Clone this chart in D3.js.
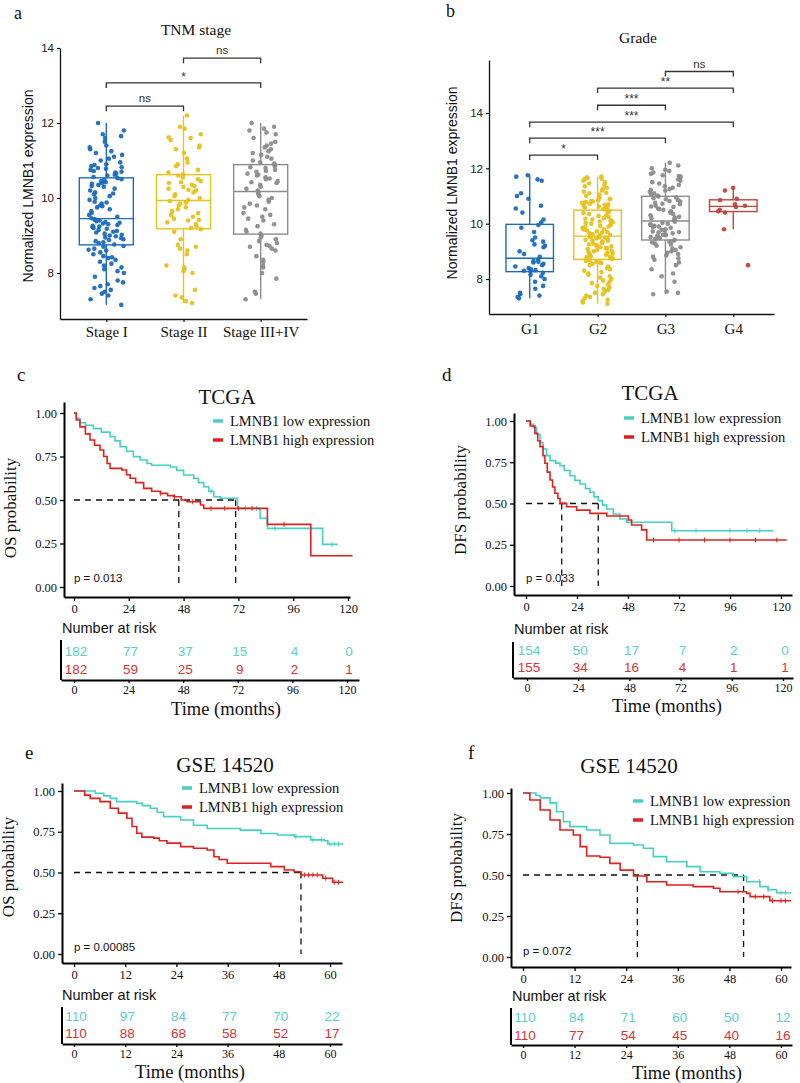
<!DOCTYPE html>
<html><head><meta charset="utf-8">
<script src="https://cdn.jsdelivr.net/npm/d3@7"></script>
<style>body{margin:0;background:#fff}</style>
</head><body>
<svg id="fig" width="800" height="1083"></svg>
<script>
// ---------------- DATA ----------------
const stageCats = ["Stage I", "Stage II", "Stage III+IV"];
const stageI = [7.15,7.3,7.4,7.45,7.5,7.55,7.6,7.65,7.7,7.75,7.8,7.9,8.0,8.05,8.1,8.15,8.2,8.25,8.3,8.35,8.4,8.42,8.45,8.5,8.55,8.6,8.62,8.65,8.7,8.72,
 8.76,8.8,8.82,8.85,8.88,8.9,8.93,8.95,8.98,9.0,9.02,9.05,9.08,9.1,9.12,9.15,9.18,9.2,9.22,9.24,9.26,9.28,9.3,9.32,9.34,9.36,9.38,9.4,9.42,9.44,
 9.46,9.5,9.55,9.6,9.65,9.7,9.75,9.78,9.8,9.85,9.88,9.9,9.95,10.0,10.05,10.1,10.12,10.15,10.2,10.25,10.3,10.32,10.35,10.38,10.4,10.42,10.45,10.48,10.5,10.53,
 10.56,10.6,10.62,10.65,10.68,10.7,10.72,10.75,10.78,10.8,10.82,10.85,10.88,10.9,10.95,11.0,11.05,11.1,11.15,11.2,11.25,11.3,11.35,11.4,11.5,11.6,11.65,11.7,11.8,12.0];
const stageII = [7.2,7.25,7.35,7.4,7.55,8.0,8.05,8.1,8.15,8.2,8.5,8.6,8.65,8.7,8.75,8.9,9.1,
 9.17,9.2,9.25,9.3,9.35,9.4,9.42,9.45,9.5,9.55,9.6,9.65,9.7,9.75,9.8,9.85,9.88,9.92,
 9.95,10.0,10.05,10.1,10.15,10.2,10.22,10.25,10.3,10.32,10.35,10.4,10.42,10.45,10.5,10.55,10.6,10.63,
 10.68,10.75,10.85,10.9,10.95,11.05,11.2,11.3,11.35,11.4,11.55,11.6,11.62,11.7,11.85,11.9,12.2];
const stageIII = [7.3,7.45,7.5,7.85,8.0,8.15,8.2,8.3,8.35,8.45,8.6,8.65,8.7,8.72,8.75,8.8,8.85,8.9,8.95,9.0,
 9.05,9.1,9.15,9.25,9.3,9.4,9.45,9.5,9.55,9.6,9.7,9.75,9.8,9.85,9.9,9.95,10.0,10.05,10.1,10.15,
 10.2,10.25,10.3,10.35,10.4,10.42,10.45,10.5,10.52,10.55,10.6,10.62,10.65,10.7,10.72,10.75,10.8,10.82,10.85,10.88,
 10.92,10.95,11.0,11.05,11.1,11.15,11.2,11.25,11.3,11.35,11.4,11.45,11.5,11.6,11.7,11.75,11.8,11.85,11.9,12.0];
const stageTicks = [8, 10, 12, 14];
const stageComparisons = [["Stage I","Stage II","ns"],["Stage I","Stage III+IV","*"],["Stage II","Stage III+IV","ns"]];
const stageBracketLevels = [12.45, 13.07, 13.73];

const gradeCats = ["G1", "G2", "G3", "G4"];
const gradeG1 = [7.3,7.35,7.4,7.45,7.5,7.65,7.75,7.9,8.0,8.1,8.15,8.22,
 8.28,8.3,8.32,8.35,8.4,8.45,8.5,8.55,8.6,8.62,8.65,8.7,
 8.8,8.9,9.0,9.15,9.2,9.25,9.35,9.4,9.5,9.7,9.85,9.95,
 10.05,10.15,10.4,10.55,10.65,10.9,11.0,11.1,11.55,11.6,11.7,11.75];
const gradeG2 = [7.1,7.15,7.2,7.25,7.3,7.35,7.4,7.45,7.5,7.55,7.6,7.65,7.7,7.75,7.8,7.85,7.9,7.95,8.0,8.05,8.1,8.15,8.2,8.25,8.3,8.35,8.4,8.45,8.5,8.55,8.58,8.6,8.62,8.65,8.68,
 8.72,8.75,8.78,8.8,8.82,8.85,8.88,8.9,8.92,8.95,8.98,9.0,9.02,9.05,9.08,9.1,9.12,9.15,9.18,9.2,9.22,9.25,9.28,9.3,9.32,9.35,9.38,9.4,9.42,9.45,9.47,9.49,9.5,9.52,9.54,
 9.56,9.58,9.6,9.62,9.65,9.68,9.7,9.72,9.75,9.78,9.8,9.82,9.85,9.88,9.9,9.92,9.95,9.98,10.0,10.02,10.05,10.08,10.1,10.12,10.15,10.18,10.2,10.25,10.28,10.3,10.35,10.38,10.42,10.45,10.48,
 10.52,10.55,10.58,10.6,10.62,10.65,10.68,10.7,10.72,10.75,10.78,10.8,10.82,10.85,10.88,10.9,10.95,11.0,11.05,11.1,11.12,11.15,11.2,11.25,11.3,11.35,11.4,11.45,11.5,11.55,11.6,11.62,11.65,11.68,11.7];
const gradeG3 = [7.45,7.5,7.55,7.9,8.1,8.2,8.35,8.5,8.6,8.7,8.75,8.8,8.85,8.9,8.95,9.0,9.05,9.1,9.15,9.2,9.25,9.28,9.32,9.35,9.38,
 9.42,9.45,9.48,9.5,9.52,9.55,9.58,9.6,9.62,9.65,9.68,9.7,9.72,9.75,9.78,9.8,9.85,9.88,9.9,9.92,9.95,9.98,10.0,10.03,10.07,
 10.12,10.15,10.2,10.22,10.25,10.3,10.35,10.4,10.45,10.5,10.52,10.55,10.6,10.62,10.65,10.7,10.72,10.75,10.8,10.82,10.85,10.88,10.92,10.95,10.98,
 11.02,11.05,11.1,11.15,11.2,11.22,11.25,11.3,11.35,11.4,11.45,11.5,11.55,11.6,11.65,11.7,11.72,11.75,11.8,11.85,11.9,11.95,12.0,12.1,12.2];
const gradeG4 = [8.5,9.8,10.4,10.45,10.5,10.6,10.65,10.7,10.85,10.9,11.2,11.3];
const gradeTicks = [8, 10, 12, 14];
const gradeComparisons = [["G1","G2","*"],["G1","G3","***"],["G1","G4","***"],["G2","G3","***"],["G2","G4","**"],["G3","G4","ns"]];
const gradeBracketLevels = [12.48, 13.09, 13.67, 14.28, 14.9, 15.5];

const groupColors = ["#1b6cbd", "#e8c11c", "#8c8c8c", "#c6433d"];

// Kaplan-Meier step points [months, survival]
const tcgaOsLow = [[0,1],[1,0.97],[2.6,0.944],[5,0.93],[8.5,0.91],[12,0.89],[15.8,0.864],[18,0.84],[20.2,0.806],[23,0.78],[26,0.749],[29,0.73],[32,0.71],[34,0.70],[42.2,0.69],[45,0.67],[48,0.644],[52.4,0.625],[54.5,0.6],[56.8,0.576],[59,0.55],[61.2,0.519],[64,0.51],[71.6,0.452],[81.5,0.395],[84.7,0.337],[108.9,0.245],[115.5,0.245]];
const tcgaOsHigh = [[0,1],[1,0.96],[2.6,0.92],[5,0.88],[7,0.845],[9,0.815],[11.4,0.787],[13,0.75],[14.5,0.71],[15.8,0.682],[21,0.672],[23,0.645],[24.6,0.625],[27,0.6],[30.5,0.567],[34,0.55],[37.8,0.538],[41,0.525],[43.6,0.519],[47,0.5],[49.5,0.49],[55.4,0.471],[56.8,0.452],[84.7,0.36],[103.7,0.18],[122,0.18]];
const tcgaDfsLow = [[0,1],[2,0.98],[3.4,0.96],[5,0.92],[6.6,0.87],[8,0.83],[9.7,0.79],[11.3,0.76],[14,0.745],[16,0.729],[18,0.7],[20.7,0.668],[23,0.64],[25.4,0.618],[28,0.59],[30.1,0.568],[32,0.54],[34,0.517],[36,0.49],[38,0.467],[41.1,0.436],[44.2,0.406],[47.4,0.386],[68.6,0.335],[116.4,0.335]];
const tcgaDfsHigh = [[0,1],[2,0.97],[4.2,0.925],[5.5,0.88],[6.6,0.845],[8,0.79],[8.9,0.744],[10,0.69],[11.3,0.642],[12.5,0.6],[13.6,0.562],[15,0.53],[16,0.501],[19.1,0.48],[23.8,0.46],[30.1,0.44],[38,0.424],[48.2,0.4],[49.7,0.37],[54.4,0.34],[56.8,0.279],[122.7,0.279]];
const gseOsLow = [[0,1],[5,0.986],[7,0.97],[8.5,0.955],[10,0.935],[14.7,0.925],[16,0.91],[17.9,0.894],[19.5,0.87],[21,0.843],[25,0.822],[28,0.79],[31.2,0.77],[39,0.76],[43.8,0.739],[47.7,0.73],[51.6,0.72],[55.5,0.70],[58.7,0.695],[59.5,0.675],[63.1,0.675]];
const gseOsHigh = [[0,1],[2.5,0.975],[3.8,0.955],[6.1,0.935],[8.5,0.894],[10.4,0.864],[12.4,0.833],[13.6,0.782],[14.7,0.741],[15.9,0.717],[18.7,0.711],[20,0.695],[21.8,0.68],[25,0.659],[28,0.649],[31.2,0.638],[32.8,0.597],[34,0.58],[35.9,0.557],[46.1,0.536],[49.3,0.515],[51.6,0.505],[53.2,0.485],[58.3,0.465],[60.6,0.44],[63.1,0.44]];
const gseDfsLow = [[0,1],[3,0.985],[4,0.97],[6.3,0.94],[7.8,0.886],[9.4,0.825],[10.9,0.795],[14.8,0.774],[17.9,0.744],[20.2,0.693],[25.7,0.683],[28,0.663],[30.3,0.612],[33.4,0.581],[38.1,0.551],[41.2,0.52],[45.8,0.51],[48.9,0.49],[52,0.459],[55.1,0.429],[57,0.41],[59,0.392],[62.3,0.392]];
const gseDfsHigh = [[0,1],[1.6,0.957],[4,0.896],[6.3,0.835],[8.6,0.774],[11.7,0.744],[13.3,0.673],[14.8,0.616],[17.9,0.608],[20.2,0.571],[22.6,0.53],[25.7,0.494],[28.8,0.459],[33.4,0.439],[39.6,0.429],[44.3,0.419],[45.8,0.398],[52,0.388],[52.8,0.368],[57.4,0.343],[62.3,0.343]];

const tcgaOsCensLow = [60,75,80,88,113], tcgaOsCensHigh = [38,44,52,60,66,72,78,92];
const tcgaDfsCensLow = [70,80,96,104,110], tcgaDfsCensHigh = [60,72,84,96,108,118];
const gseOsCensLow = [52,56,58,60,61,62], gseOsCensHigh = [54,55,56,57,59,61,62];
const gseDfsCensLow = [55,57,60,61], gseDfsCensHigh = [50,54,56,58,60,61];

const tcgaTimes = [0, 24, 48, 72, 96, 120];
const gseTimes = [0, 12, 24, 36, 48, 60];
const survTicks = [0, 0.25, 0.5, 0.75, 1];

const tcgaOsRiskLow = [182, 77, 37, 15, 4, 0], tcgaOsRiskHigh = [182, 59, 25, 9, 2, 1];
const tcgaDfsRiskLow = [154, 50, 17, 7, 2, 0], tcgaDfsRiskHigh = [155, 34, 16, 4, 1, 1];
const gseOsRiskLow = [110, 97, 84, 77, 70, 22], gseOsRiskHigh = [110, 88, 68, 58, 52, 17];
const gseDfsRiskLow = [110, 84, 71, 60, 50, 12], gseDfsRiskHigh = [110, 77, 54, 45, 40, 16];

const tcgaOsMedians = [45.9, 70.8], tcgaDfsMedians = [16.8, 34];
const gseOsMedians = [53.2], gseDfsMedians = [26.6, 51.3];
const legendLabels = ["LMNB1 low expression", "LMNB1 high expression"];
const kmColors = ["#45d0c6", "#e0201f"];
const riskColors = ["#5ccfc6", "#d9333a"];

// ---------------- DRAWING ----------------
const svg = d3.select("#fig");
svg.append("rect").attr("width", 800).attr("height", 1083).attr("fill", "#fff");
const SERIF = "'Liberation Serif','Times New Roman',serif";
const SANS = "'Liberation Sans',Arial,sans-serif";

function txt(g, x, y, s, size, fam, anchor, color) {
  return g.append("text").attr("x", x).attr("y", y).text(s)
    .attr("font-size", size).attr("font-family", fam)
    .attr("text-anchor", anchor || "middle").attr("fill", color || "#111");
}
function vtxt(g, x, y, s, size, fam) {
  return g.append("text").attr("transform", `translate(${x},${y}) rotate(-90)`).text(s)
    .attr("font-size", size).attr("font-family", fam).attr("text-anchor", "middle").attr("fill", "#111");
}
function jit(j, k) { const v = Math.sin((j + 1) * 12.9898 + k * 78.233) * 43758.5453; return v - Math.floor(v) - 0.5; }

function boxPanel(c) {
  const g = svg.append("g");
  const x = d3.scalePoint().domain(c.cats).range([c.ax0, c.ax1]).padding(0.6);
  const y = d3.scaleLinear().domain([8, 14]).range(c.yTickPx);
  y.domain([y.invert(c.ayBottom), y.invert(c.ayTop)]).range([c.ayBottom, c.ayTop]);
  const ya = g.append("g").attr("transform", `translate(${c.ax0},0)`)
    .call(d3.axisLeft(y).tickValues(c.ticks).tickSize(3).tickPadding(3).tickSizeOuter(0));
  ya.selectAll("text").attr("font-size", 11.5).attr("font-family", SANS).attr("fill", "#222");
  const xa = g.append("g").attr("transform", `translate(0,${c.ayBottom})`)
    .call(d3.axisBottom(x).tickSize(3).tickPadding(c.xPad).tickSizeOuter(0));
  xa.selectAll("text").attr("font-size", 15).attr("font-family", SERIF).attr("fill", "#111");
  [ya, xa].forEach(a => { a.select(".domain").attr("stroke", "#111").attr("stroke-width", 1.3); a.selectAll(".tick line").attr("stroke", "#111").attr("stroke-width", 1.2); });

  const step = x.step(), bw = step * 0.7;
  c.groups.forEach((vals, i) => {
    const s = vals.slice().sort(d3.ascending);
    const q1 = d3.quantile(s, 0.25), med = d3.quantile(s, 0.5), q3 = d3.quantile(s, 0.75);
    const iqr = q3 - q1;
    const lo = d3.min(s.filter(v => v >= q1 - 1.5 * iqr)), hi = d3.max(s.filter(v => v <= q3 + 1.5 * iqr));
    const cx = x(c.cats[i]), col = c.colors[i];
    g.append("line").attr("x1", cx).attr("x2", cx).attr("y1", y(lo)).attr("y2", y(q1)).attr("stroke", col).attr("stroke-width", 1.4);
    g.append("line").attr("x1", cx).attr("x2", cx).attr("y1", y(q3)).attr("y2", y(hi)).attr("stroke", col).attr("stroke-width", 1.4);
    g.append("rect").attr("x", cx - bw / 2).attr("width", bw).attr("y", y(q3)).attr("height", y(q1) - y(q3))
      .attr("fill", "none").attr("stroke", col).attr("stroke-width", 1.4);
    g.append("line").attr("x1", cx - bw / 2).attr("x2", cx + bw / 2).attr("y1", y(med)).attr("y2", y(med)).attr("stroke", col).attr("stroke-width", 1.4);
    g.selectAll(null).data(s).join("circle")
      .attr("cx", (d, j) => cx + jit(j, i + c.seed) * step * 0.46)
      .attr("cy", d => y(d)).attr("r", 2.3).attr("fill", col).attr("fill-opacity", 0.95);
  });
  // brackets
  c.comps.forEach((cmp, k) => {
    const x1 = x(cmp[0]), x2 = x(cmp[1]), yy = y(c.levels[k]);
    g.append("path").attr("d", `M${x1},${yy + 5}V${yy}H${x2}V${yy + 5}`)
      .attr("fill", "none").attr("stroke", "#333").attr("stroke-width", 1.3);
    const lbl = cmp[2];
    txt(g, (x1 + x2) / 2, lbl === "ns" ? yy - 4 : yy - 2, lbl, lbl === "ns" ? 11.5 : 12, SANS, "middle", "#333");
  });
  txt(g, c.titleX, c.titleY, c.title, 15.5, SERIF);
  vtxt(g, c.ylabX, c.ylabY, "Normalized LMNB1 expression", 14, SANS);
  txt(g, c.letterX, c.letterY, c.letter, 18, SERIF, "start");
}

boxPanel({cats: stageCats, groups: [stageI, stageII, stageIII], colors: groupColors, ticks: stageTicks,
  comps: stageComparisons, levels: stageBracketLevels, seed: 0,
  ax0: 60, ax1: 307, yTickPx: [273, 48], ayBottom: 319, ayTop: 48, xPad: 4,
  title: "TNM stage", titleX: 196, titleY: 35, ylabX: 33, ylabY: 186, letter: "a", letterX: 14, letterY: 19});
boxPanel({cats: gradeCats, groups: [gradeG1, gradeG2, gradeG3, gradeG4], colors: groupColors, ticks: gradeTicks,
  comps: gradeComparisons, levels: gradeBracketLevels, seed: 5,
  ax0: 489, ax1: 774, yTickPx: [279, 113], ayBottom: 314, ayTop: 60, xPad: 6,
  title: "Grade", titleX: 638, titleY: 43, ylabX: 457, ylabY: 183, letter: "b", letterX: 446, letterY: 17});

function survAt(curve, t) {
  const i = d3.bisector(d => d[0]).right(curve, t) - 1;
  return curve[Math.max(0, i)][1];
}

function kmPanel(c) {
  const g = svg.append("g");
  const x = d3.scaleLinear().domain([c.times[0], c.times[c.times.length - 1]]).range(c.tickPx);
  x.domain([x.invert(c.ax0), x.invert(c.ax1)]).range([c.ax0, c.ax1]);
  const y = d3.scaleLinear().domain([0, 1]).range(c.survPx);
  y.domain([y.invert(c.ayBottom), y.invert(c.ayTop)]).range([c.ayBottom, c.ayTop]);

  const xa = g.append("g").attr("transform", `translate(0,${c.ayBottom})`)
    .call(d3.axisBottom(x).tickValues(c.times).tickSize(4).tickPadding(3).tickSizeOuter(0));
  xa.selectAll("text").attr("font-size", 12.5).attr("font-family", SERIF).attr("fill", "#111");
  const ya = g.append("g").attr("transform", `translate(${c.ax0},0)`)
    .call(d3.axisLeft(y).tickValues(survTicks).tickFormat(d3.format(".2f")).tickSize(4).tickPadding(3).tickSizeOuter(0));
  ya.selectAll("text").attr("font-size", 12.5).attr("font-family", SERIF).attr("fill", "#111");
  [xa, ya].forEach(a => { a.select(".domain").attr("stroke", "#000").attr("stroke-width", 2); a.selectAll(".tick line").attr("stroke", "#000").attr("stroke-width", 1.3); });

  // median lines
  const mMax = d3.max(c.medians);
  g.append("line").attr("x1", x(0)).attr("x2", x(mMax)).attr("y1", y(0.5)).attr("y2", y(0.5))
    .attr("stroke", "#111").attr("stroke-width", 1.3).attr("stroke-dasharray", "6,5");
  c.medians.forEach(m => g.append("line").attr("x1", x(m)).attr("x2", x(m)).attr("y1", y(0.5)).attr("y2", y(0))
    .attr("stroke", "#111").attr("stroke-width", 1.3).attr("stroke-dasharray", "6,5"));

  const line = d3.line().x(d => x(d[0])).y(d => y(d[1])).curve(d3.curveStepAfter);
  c.curves.forEach((cv, i) => {
    g.append("path").attr("d", line(cv)).attr("fill", "none").attr("stroke", kmColors[i]).attr("stroke-width", 1.6);
    c.censors[i].forEach(t => {
      const s = survAt(cv, t);
      g.append("line").attr("x1", x(t)).attr("x2", x(t)).attr("y1", y(s) - 2.5).attr("y2", y(s) + 2.5)
        .attr("stroke", kmColors[i]).attr("stroke-width", 1);
    });
  });
  // legend
  legendLabels.forEach((l, i) => {
    const ly = c.legY + i * 19;
    g.append("line").attr("x1", c.legX).attr("x2", c.legX + 10).attr("y1", ly).attr("y2", ly)
      .attr("stroke", kmColors[i]).attr("stroke-width", 3.5);
    txt(g, c.legX + 17, ly + 5, l, 14.5, SERIF, "start");
  });
  txt(g, x(0), c.pY, c.pText, 11.5, SANS, "start");
  txt(g, c.titleX, c.titleY, c.title, 21, SERIF);
  vtxt(g, c.ylabX, c.ylabY, c.ylab, 17, SERIF);
  txt(g, c.letterX, c.letterY, c.letter, 19, SERIF, "start");

  // risk table
  const r = c.risk;
  txt(g, r.nx, r.ny, "Number at risk", 14.5, SANS, "start");
  const rx = d3.scaleLinear().domain([c.times[0], c.times[c.times.length - 1]]).range(r.tickPx);
  rx.domain([rx.invert(r.ax0), rx.invert(r.ax1)]).range([r.ax0, r.ax1]);
  const ra = g.append("g").attr("transform", `translate(0,${r.yBot})`)
    .call(d3.axisBottom(rx).tickValues(c.times).tickSize(3).tickPadding(2).tickSizeOuter(0));
  ra.selectAll("text").attr("font-size", 12).attr("font-family", SERIF).attr("fill", "#111");
  ra.select(".domain").attr("stroke", "#000").attr("stroke-width", 2);
  ra.selectAll(".tick line").attr("stroke", "#000").attr("stroke-width", 1.3);
  g.append("line").attr("x1", r.ax0).attr("x2", r.ax0).attr("y1", r.yTop).attr("y2", r.yBot)
    .attr("stroke", "#000").attr("stroke-width", 2);
  [c.riskLow, c.riskHigh].forEach((row, i) => {
    row.forEach((n, j) => txt(g, rx(c.times[j]) + 2, r.rowY[i] + 5, n, 13.5, SANS, "middle", riskColors[i]));
  });
  txt(g, r.tx, r.ty, "Time (months)", 18.5, SERIF);
}

kmPanel({times: tcgaTimes, tickPx: [74, 348], ax0: 64, ax1: 350, survPx: [587, 413], ayBottom: 597, ayTop: 402,
  curves: [tcgaOsLow, tcgaOsHigh], censors: [tcgaOsCensLow, tcgaOsCensHigh], medians: tcgaOsMedians,
  legX: 213, legY: 421, pText: "p = 0.013", pY: 582, title: "TCGA", titleX: 227, titleY: 404,
  ylab: "OS probability", ylabX: 16, ylabY: 508, letter: "c", letterX: 17, letterY: 381,
  riskLow: tcgaOsRiskLow, riskHigh: tcgaOsRiskHigh,
  risk: {nx: 62, ny: 633, tickPx: [74, 347], ax0: 61, ax1: 359, yTop: 640, yBot: 680, rowY: [651, 669], tx: 226, ty: 715}});

kmPanel({times: tcgaTimes, tickPx: [526, 781], ax0: 514, ax1: 792, survPx: [586, 421], ayBottom: 595, ayTop: 413,
  curves: [tcgaDfsLow, tcgaDfsHigh], censors: [tcgaDfsCensLow, tcgaDfsCensHigh], medians: tcgaDfsMedians,
  legX: 624, legY: 418, pText: "p = 0.033", pY: 582, title: "TCGA", titleX: 650, titleY: 400,
  ylab: "DFS probability", ylabX: 466, ylabY: 500, letter: "d", letterX: 442, letterY: 381,
  riskLow: tcgaDfsRiskLow, riskHigh: tcgaDfsRiskHigh,
  risk: {nx: 514, ny: 634, tickPx: [527, 783], ax0: 513, ax1: 793, yTop: 642, yBot: 678, rowY: [650, 667], tx: 667, ty: 712}});

kmPanel({times: gseTimes, tickPx: [74, 330], ax0: 62, ax1: 342, survPx: [954, 791], ayBottom: 963, ayTop: 783,
  curves: [gseOsLow, gseOsHigh], censors: [gseOsCensLow, gseOsCensHigh], medians: gseOsMedians,
  legX: 182, legY: 788, pText: "p = 0.00085", pY: 951, title: "GSE 14520", titleX: 225, titleY: 772,
  ylab: "OS probability", ylabX: 14, ylabY: 867, letter: "e", letterX: 25, letterY: 759,
  riskLow: gseOsRiskLow, riskHigh: gseOsRiskHigh,
  risk: {nx: 62, ny: 1000, tickPx: [74, 330], ax0: 62, ax1: 342, yTop: 1007, yBot: 1044, rowY: [1016, 1033], tx: 190, ty: 1078}});

kmPanel({times: gseTimes, tickPx: [523, 781], ax0: 511, ax1: 791, survPx: [957, 793], ayBottom: 967, ayTop: 788,
  curves: [gseDfsLow, gseDfsHigh], censors: [gseDfsCensLow, gseDfsCensHigh], medians: gseDfsMedians,
  legX: 633, legY: 801, pText: "p = 0.072", pY: 955, title: "GSE 14520", titleX: 629, titleY: 773,
  ylab: "DFS probability", ylabX: 462, ylabY: 868, letter: "f", letterX: 468, letterY: 759,
  riskLow: gseDfsRiskLow, riskHigh: gseDfsRiskHigh,
  risk: {nx: 512, ny: 1001, tickPx: [523, 781], ax0: 511, ax1: 792, yTop: 1008, yBot: 1045, rowY: [1017, 1035], tx: 687, ty: 1079}});
</script>
</body></html>
